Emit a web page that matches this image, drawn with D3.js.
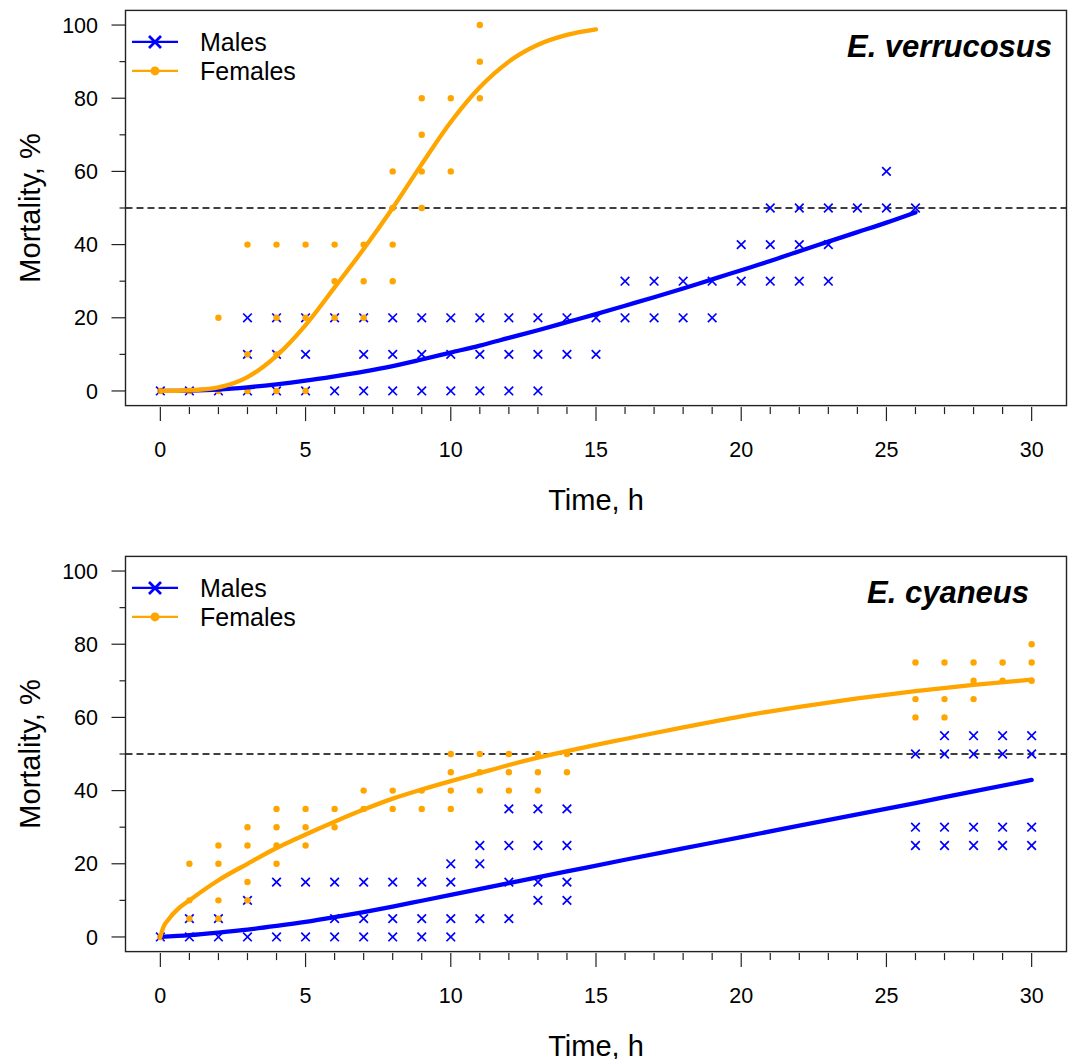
<!DOCTYPE html>
<html>
<head>
<meta charset="utf-8">
<script src="https://cdn.jsdelivr.net/npm/d3@7"></script>
<style>
  html, body { margin: 0; padding: 0; background: #fff; }
  svg { display: block; font-family: "Liberation Sans", Arial, Helvetica, sans-serif; }
</style>
</head>
<body>
<svg id="chart" width="1080" height="1059"></svg>
<script>
// ---------------- DATA ----------------
const panelTitles = ["E. verrucosus", "E. cyaneus"];
const seriesNames = ["Males", "Females"];
const xMajorTicks = [0, 5, 10, 15, 20, 25, 30];
const xMinorTicks = d3.range(0, 31, 1);
const yMajorTicks = [0, 20, 40, 60, 80, 100];
const yMinorTicks = [10, 30, 50, 70, 90];
const thresholdLevel = 50;

// E. verrucosus observations [time h, mortality %]
const verrucosusMalesObs = [
  [0,0],[1,0],[2,0],
  [3,0],[3,10],[3,20],[4,0],[4,10],[4,20],[5,0],[5,10],[5,20],
  [6,0],[6,20],[7,0],[7,10],[7,20],[8,0],[8,10],[8,20],[9,0],[9,10],[9,20],
  [10,0],[10,10],[10,20],[11,0],[11,10],[11,20],[12,0],[12,10],[12,20],[13,0],[13,10],[13,20],
  [14,10],[14,20],[15,10],[15,20],[16,20],[16,30],[17,20],[17,30],[18,20],[18,30],[19,20],[19,30],
  [20,30],[20,40],[21,30],[21,40],[21,50],[22,30],[22,40],[22,50],[23,30],[23,40],[23,50],
  [24,50],[25,50],[25,60],[26,50]
];
const verrucosusFemalesObs = [
  [0,0],[1,0],[2,0],[2,20],
  [3,0],[3,10],[3,40],[4,0],[4,10],[4,20],[4,40],[5,0],[5,20],[5,40],
  [6,20],[6,30],[6,40],[7,20],[7,30],[7,40],[8,30],[8,40],[8,50],[8,60],
  [9,50],[9,60],[9,70],[9,80],[10,60],[10,80],[11,80],[11,90],[11,100]
];
// fitted curves [time h, mortality %]
const verrucosusMalesFit = [
  [0,0],[1,0.1],[2,0.4],[3,1.0],[4,1.8],[5,2.8],[6,4.0],[7,5.3],[8,6.8],[9,8.6],[10,10.5],
  [11,12.4],[12,14.5],[13,16.6],[14,18.8],[15,21],[16,23.3],[17,25.6],[18,28],[19,30.5],
  [20,33],[21,35.5],[22,38.2],[23,40.8],[24,43.4],[25,46],[26,48.8]
];
const verrucosusFemalesFit = [
  [0,0],[1,0.2],[2,1.0],[3,3.8],[4,9.6],[5,18],[6,28.3],[7,38.8],[8,50],[9,62],
  [10,73.5],[11,83],[12,90],[13,94.6],[14,97.3],[15,98.8]
];

// E. cyaneus observations
const cyaneusMalesObs = [
  [0,0],[1,0],[1,5],[2,0],[2,5],[3,0],[3,10],[4,0],[4,15],[5,0],[5,15],
  [6,0],[6,5],[6,15],[7,0],[7,5],[7,15],[8,0],[8,5],[8,15],[9,0],[9,5],[9,15],
  [10,0],[10,5],[10,15],[10,20],[11,5],[11,20],[11,25],[12,5],[12,15],[12,25],[12,35],
  [13,10],[13,15],[13,25],[13,35],[14,10],[14,15],[14,25],[14,35],
  [26,25],[26,30],[26,50],[27,25],[27,30],[27,50],[27,55],[28,25],[28,30],[28,50],[28,55],
  [29,25],[29,30],[29,50],[29,55],[30,25],[30,30],[30,50],[30,55]
];
const cyaneusFemalesObs = [
  [0,0],[1,5],[1,10],[1,20],[2,5],[2,10],[2,20],[2,25],[3,10],[3,15],[3,25],[3,30],
  [4,20],[4,25],[4,30],[4,35],[5,25],[5,30],[5,35],[6,30],[6,35],[7,35],[7,40],
  [8,35],[8,40],[9,35],[9,40],[10,35],[10,40],[10,45],[10,50],[11,40],[11,45],[11,50],
  [12,40],[12,45],[12,50],[13,40],[13,45],[13,50],[14,45],[14,50],
  [26,60],[26,65],[26,75],[27,60],[27,65],[27,75],[28,65],[28,70],[28,75],
  [29,70],[29,75],[30,70],[30,75],[30,80]
];
const cyaneusMalesFit = [
  [0,0],[1,0.5],[2,1.2],[3,2],[4,3],[5,4.1],[6,5.4],[7,6.8],[8,8.3],[9,9.9],[10,11.5],
  [12,14.7],[14,17.9],[16,21.1],[18,24.2],[20,27.3],[22,30.4],[24,33.5],[26,36.6],[28,39.8],[30,42.9]
];
const cyaneusFemalesFit = [
  [0,0],[0.1,2.6],[0.3,5],[0.6,7.6],[1,10],[2,15.5],[3,20],[4,24.3],[5,28],[6,31.5],
  [7,34.8],[8,37.8],[9,40.3],[10,42.6],[11,44.8],[12,47],[13,49],[14,50.8],[15,52.5],
  [16,54.1],[18,57.3],[20,60.3],[22,62.9],[24,65.2],[26,67.2],[28,68.9],[30,70.3]
];

const panels = [
  { title: panelTitles[0], males: verrucosusMalesObs, females: verrucosusFemalesObs,
    maleFit: verrucosusMalesFit, femaleFit: verrucosusFemalesFit },
  { title: panelTitles[1], males: cyaneusMalesObs, females: cyaneusFemalesObs,
    maleFit: cyaneusMalesFit, femaleFit: cyaneusFemalesFit }
];

// ---------------- LAYOUT ----------------
const BLUE = "#0000ff", ORANGE = "#ffa500";
const boxLeft = 125.5, boxRight = 1066.5;
const panelTop = [10.4, 556.4];
const boxH = 395.2;
const titleRight = [1052, 1029];

const svg = d3.select("#chart");
svg.append("rect").attr("width", 1080).attr("height", 1059).attr("fill", "#fff");

panels.forEach((p, i) => {
  const top = panelTop[i], bottom = top + boxH;
  const x = d3.scaleLinear().domain([-1.2, 31.2]).range([boxLeft, boxRight]);
  const y = d3.scaleLinear().domain([-4, 104]).range([bottom, top]);
  const g = svg.append("g");

  // threshold dashed line
  g.append("line")
    .attr("x1", boxLeft).attr("x2", boxRight)
    .attr("y1", y(thresholdLevel)).attr("y2", y(thresholdLevel))
    .attr("stroke", "#000").attr("stroke-width", 1.3).attr("stroke-dasharray", "7,4");

  // male points (x)
  const s = 4.3;
  g.append("g").selectAll("path").data(p.males).join("path")
    .attr("d", d => {
      const cx = x(d[0]), cy = y(d[1]);
      return `M${cx - s},${cy - s}L${cx + s},${cy + s}M${cx - s},${cy + s}L${cx + s},${cy - s}`;
    })
    .attr("stroke", BLUE).attr("stroke-width", 1.7).attr("fill", "none");

  // female points (dots)
  g.append("g").selectAll("circle").data(p.females).join("circle")
    .attr("cx", d => x(d[0])).attr("cy", d => y(d[1])).attr("r", 3.2)
    .attr("fill", ORANGE);

  const line = d3.line().x(d => x(d[0])).y(d => y(d[1])).curve(d3.curveMonotoneX);
  g.append("path").datum(p.maleFit).attr("d", line)
    .attr("fill", "none").attr("stroke", BLUE).attr("stroke-width", 4.3).attr("stroke-linecap", "round");
  g.append("path").datum(p.femaleFit).attr("d", line)
    .attr("fill", "none").attr("stroke", ORANGE).attr("stroke-width", 4.3).attr("stroke-linecap", "round");

  // box
  g.append("rect").attr("x", boxLeft).attr("y", top).attr("width", boxRight - boxLeft).attr("height", boxH)
    .attr("fill", "none").attr("stroke", "#222").attr("stroke-width", 1.4);

  // x axis
  const xAxis = g.append("g").attr("transform", `translate(0,${bottom + 1.5})`);
  xAxis.selectAll("line.minor").data(xMinorTicks.filter(t => !xMajorTicks.includes(t))).join("line")
    .attr("x1", d => x(d)).attr("x2", d => x(d)).attr("y1", 0).attr("y2", 7)
    .attr("stroke", "#222").attr("stroke-width", 1.2);
  xAxis.selectAll("line.major").data(xMajorTicks).join("line")
    .attr("x1", d => x(d)).attr("x2", d => x(d)).attr("y1", 0).attr("y2", 14)
    .attr("stroke", "#222").attr("stroke-width", 1.2);
  xAxis.selectAll("text").data(xMajorTicks).join("text")
    .attr("x", d => x(d)).attr("y", 50).attr("text-anchor", "middle")
    .attr("font-size", 21.5).attr("fill", "#000").text(d => d);

  // y axis
  const yAxis = g.append("g");
  yAxis.selectAll("line.minor").data(yMinorTicks).join("line")
    .attr("x1", boxLeft - 6).attr("x2", boxLeft).attr("y1", d => y(d)).attr("y2", d => y(d))
    .attr("stroke", "#222").attr("stroke-width", 1.2);
  yAxis.selectAll("line.major").data(yMajorTicks).join("line")
    .attr("x1", boxLeft - 14).attr("x2", boxLeft).attr("y1", d => y(d)).attr("y2", d => y(d))
    .attr("stroke", "#222").attr("stroke-width", 1.2);
  yAxis.selectAll("text").data(yMajorTicks).join("text")
    .attr("x", 98).attr("y", d => y(d) + 7.7).attr("text-anchor", "end")
    .attr("font-size", 21.5).attr("fill", "#000").text(d => d);

  // axis titles
  g.append("text").attr("x", (boxLeft + boxRight) / 2).attr("y", bottom + 104)
    .attr("text-anchor", "middle").attr("font-size", 29).attr("fill", "#000").text("Time, h");
  g.append("text").attr("transform", `translate(40,${(top + bottom) / 2}) rotate(-90)`)
    .attr("text-anchor", "middle").attr("font-size", 29).attr("fill", "#000").text("Mortality, %");

  // panel title
  g.append("text").attr("x", titleRight[i]).attr("y", top + 46.5).attr("text-anchor", "end")
    .attr("font-size", 31).attr("font-weight", "bold").attr("font-style", "italic")
    .attr("fill", "#000").text(p.title);

  // legend
  const lg = g.append("g").attr("transform", `translate(0,${top})`);
  const ly = [31.5, 60.5];
  lg.append("line").attr("x1", 132).attr("x2", 178).attr("y1", ly[0]).attr("y2", ly[0])
    .attr("stroke", BLUE).attr("stroke-width", 2.2);
  const ls = 6;
  lg.append("path")
    .attr("d", `M${155 - ls},${ly[0] - ls}L${155 + ls},${ly[0] + ls}M${155 - ls},${ly[0] + ls}L${155 + ls},${ly[0] - ls}`)
    .attr("stroke", BLUE).attr("stroke-width", 2.8).attr("fill", "none");
  lg.append("line").attr("x1", 132).attr("x2", 178).attr("y1", ly[1]).attr("y2", ly[1])
    .attr("stroke", ORANGE).attr("stroke-width", 2.2);
  lg.append("circle").attr("cx", 155).attr("cy", ly[1]).attr("r", 4.5).attr("fill", ORANGE);
  lg.selectAll("text").data(seriesNames).join("text")
    .attr("x", 200).attr("y", (d, k) => ly[k] + 8.7)
    .attr("font-size", 25).attr("fill", "#000").text(d => d);
});
</script>
</body>
</html>
